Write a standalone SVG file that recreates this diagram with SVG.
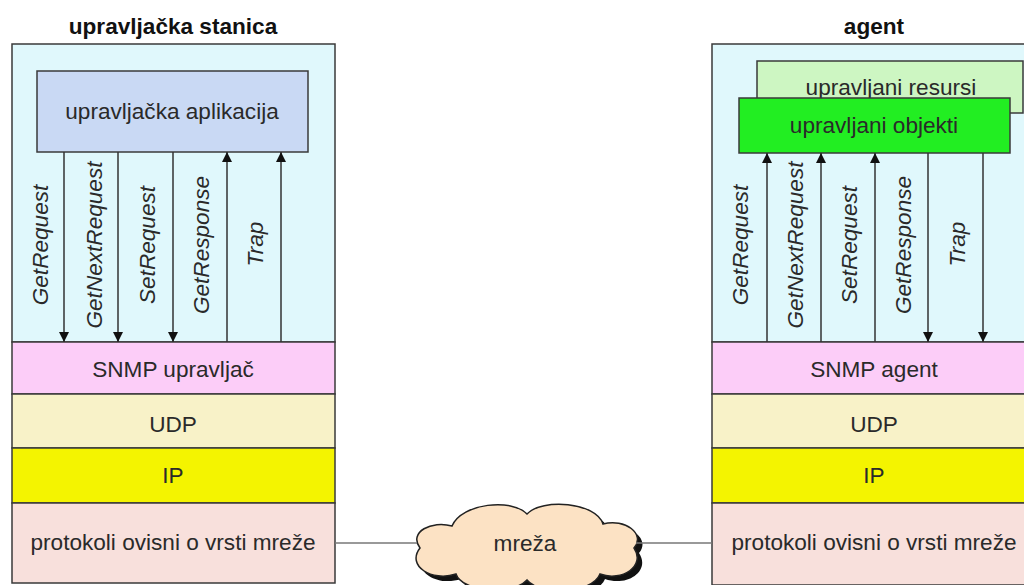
<svg xmlns="http://www.w3.org/2000/svg" width="1024" height="585" viewBox="0 0 1024 585">
<defs>
<style>
text{font-family:"Liberation Sans",Arial,sans-serif;font-size:22.6px;fill:#2a2a2a;text-anchor:middle}
.title{font-weight:bold;fill:#111}
.lbl{font-style:italic}
.box{stroke:#3a3a3a;stroke-width:1.5}
.arr{stroke:#333;stroke-width:1.5;fill:none}
.link{stroke:#777;stroke-width:1.5;fill:none}
</style>
<marker id="ah" viewBox="0 0 10 10" refX="10" refY="5" markerWidth="10" markerHeight="10" markerUnits="userSpaceOnUse" orient="auto">
<path d="M0,0 L10,5 L0,10 Z" fill="#111"/>
</marker>
</defs>
<rect width="1024" height="585" fill="#fff"/>

<g id="manager">
<text class="title" x="173" y="34">upravljačka stanica</text>
<rect class="box" x="12" y="44" width="323" height="298" fill="#E0F8FC"/>
</g>
<g id="app">
<rect class="box" x="37" y="71" width="271" height="81" fill="#C9D9F4"/>
<text x="172" y="119">upravljačka aplikacija</text>
</g>
<g id="snmp-manager">
<rect class="box" x="12" y="342" width="323" height="52" fill="#FCCDF8"/>
<text x="173" y="377">SNMP upravljač</text>
</g>
<g id="udp-left">
<rect class="box" x="12" y="394" width="323" height="54" fill="#F8F2C8"/>
<text x="173" y="432">UDP</text>
</g>
<g id="ip-left">
<rect class="box" x="12" y="448" width="323" height="55" fill="#F4F400"/>
<text x="173" y="483">IP</text>
</g>
<g id="net-left">
<rect class="box" x="12" y="503" width="323" height="80" fill="#F8E0DC"/>
<text x="173" y="550">protokoli ovisni o vrsti mreže</text>
</g>

<g id="agent">
<text class="title" x="874" y="34">agent</text>
<rect class="box" x="712" y="44" width="330" height="298" fill="#E0F8FC"/>
</g>
<g id="resources">
<rect class="box" x="757" y="61" width="266" height="52" fill="#CDF6C2"/>
<text x="891" y="95">upravljani resursi</text>
</g>
<g id="objects">
<rect class="box" x="739" y="98" width="271" height="55" fill="#22EE22"/>
<text x="874" y="133">upravljani objekti</text>
</g>
<g id="snmp-agent">
<rect class="box" x="712" y="342" width="330" height="52" fill="#FCCDF8"/>
<text x="874" y="377">SNMP agent</text>
</g>
<g id="udp-right">
<rect class="box" x="712" y="394" width="330" height="54" fill="#F8F2C8"/>
<text x="874" y="432">UDP</text>
</g>
<g id="ip-right">
<rect class="box" x="712" y="448" width="330" height="55" fill="#F4F400"/>
<text x="874" y="483">IP</text>
</g>
<g id="net-right">
<rect class="box" x="712" y="503" width="330" height="82" fill="#F8E0DC"/>
<text x="874" y="550">protokoli ovisni o vrsti mreže</text>
</g>

<g id="cloud">
<path transform="translate(5,5)" d="M420,548 C408,532 432,520 452,526 C462,503 512,498 527,514 C542,498 596,502 603,524 C625,518 646,534 634,548 C646,566 622,582 600,574 C592,594 540,596 527,580 C512,596 462,592 456,574 C432,582 406,566 420,548 Z" fill="#111"/>
<path d="M420,548 C408,532 432,520 452,526 C462,503 512,498 527,514 C542,498 596,502 603,524 C625,518 646,534 634,548 C646,566 622,582 600,574 C592,594 540,596 527,580 C512,596 462,592 456,574 C432,582 406,566 420,548 Z" fill="#FCE2C4" stroke="#222" stroke-width="1.5"/>
<text x="525" y="551">mreža</text>
</g>

<g id="connectors">
<line class="link" x1="335" y1="543" x2="417" y2="543"/>
<line class="link" x1="636" y1="543" x2="712" y2="543"/>
<line class="arr" x1="64" y1="152" x2="64" y2="342" marker-end="url(#ah)"/>
<line class="arr" x1="118" y1="152" x2="118" y2="342" marker-end="url(#ah)"/>
<line class="arr" x1="173" y1="152" x2="173" y2="342" marker-end="url(#ah)"/>
<line class="arr" x1="227" y1="342" x2="227" y2="152" marker-end="url(#ah)"/>
<line class="arr" x1="281" y1="342" x2="281" y2="152" marker-end="url(#ah)"/>
<line class="arr" x1="767" y1="342" x2="767" y2="153" marker-end="url(#ah)"/>
<line class="arr" x1="821" y1="342" x2="821" y2="153" marker-end="url(#ah)"/>
<line class="arr" x1="875" y1="342" x2="875" y2="153" marker-end="url(#ah)"/>
<line class="arr" x1="928" y1="153" x2="928" y2="342" marker-end="url(#ah)"/>
<line class="arr" x1="983" y1="153" x2="983" y2="342" marker-end="url(#ah)"/>
<text class="lbl" transform="translate(48,245) rotate(-90)">GetRequest</text>
<text class="lbl" transform="translate(102,245) rotate(-90)">GetNextRequest</text>
<text class="lbl" transform="translate(155,245) rotate(-90)">SetRequest</text>
<text class="lbl" transform="translate(209,245) rotate(-90)">GetResponse</text>
<text class="lbl" transform="translate(263,244) rotate(-90)">Trap</text>
<text class="lbl" transform="translate(748,245) rotate(-90)">GetRequest</text>
<text class="lbl" transform="translate(803,245) rotate(-90)">GetNextRequest</text>
<text class="lbl" transform="translate(857,245) rotate(-90)">SetRequest</text>
<text class="lbl" transform="translate(911,245) rotate(-90)">GetResponse</text>
<text class="lbl" transform="translate(965,244) rotate(-90)">Trap</text>
</g>
</svg>
